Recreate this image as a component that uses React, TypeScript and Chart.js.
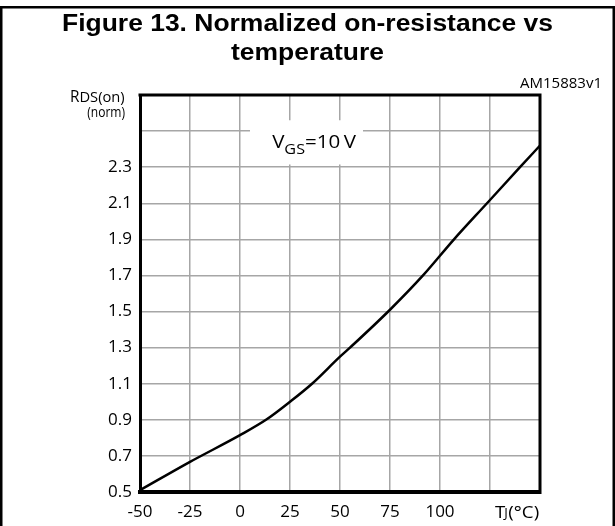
import React, { useEffect, useRef } from 'react';
import { Chart, registerables } from 'chart.js';

Chart.register(...registerables);

// ---- data ----
const temperatures = [-50, -25, 0, 13, 25, 36, 50, 55, 75, 91.5, 107, 123.5, 140, 150];
const rdsOnNorm = [0.51, 0.667, 0.815, 0.9, 1.0, 1.1, 1.25, 1.3, 1.51, 1.7, 1.9, 2.1, 2.3, 2.42];

const xTickValues = [-50, -25, 0, 25, 50, 75, 100, 125, 150];
const xTickLabels = ['-50', '-25', '0', '25', '50', '75', '100', '', ''];
const yTickValues = [0.5, 0.7, 0.9, 1.1, 1.3, 1.5, 1.7, 1.9, 2.1, 2.3, 2.5, 2.7];
const yTickLabels = ['0.5', '0.7', '0.9', '1.1', '1.3', '1.5', '1.7', '1.9', '2.1', '2.3', '', ''];

const titleLines = ['Figure 13. Normalized on-resistance vs', 'temperature'];
const codeLabel = 'AM15883v1';
const vgsLabel = { main: 'V', sub: 'GS', rest: '=10\u2009V' };
const yAxisLabel = { main: 'R', sub: 'DS(on)', second: '(norm)' };
const xAxisLabel = { main: 'T', sub: 'J', rest: '(°C)' };

const SANS = '"Open Sans", "Noto Sans", sans-serif';
const TITLE_FONT = '"Liberation Sans", Arial, sans-serif';

// draw text with a horizontal stretch; returns drawn width
function drawText(ctx: any, text: string, x: number, y: number, font: string, align: string, sx = 1) {
  ctx.save();
  ctx.font = font;
  ctx.textBaseline = 'alphabetic';
  const w = ctx.measureText(text).width * sx;
  let left = x;
  if (align === 'center') left = x - w / 2;
  else if (align === 'right') left = x - w;
  ctx.translate(left, y);
  ctx.scale(sx, 1);
  ctx.textAlign = 'left';
  ctx.fillStyle = '#000';
  ctx.fillText(text, 0, 0);
  ctx.restore();
  return w;
}

function measure(ctx: any, text: string, font: string, sx = 1) {
  ctx.save();
  ctx.font = font;
  const w = ctx.measureText(text).width * sx;
  ctx.restore();
  return w;
}

const decorPlugin = {
  id: 'decor',
  beforeDraw(chart: any) {
    const { ctx, width, height } = chart;
    ctx.save();
    ctx.fillStyle = '#ffffff';
    ctx.fillRect(0, 0, width, height);
    ctx.restore();
  },
  beforeDatasetsDraw(chart: any) {
    const { ctx, scales } = chart;
    const x = scales.x;
    const y = scales.y;
    // white box behind V_GS label
    const bx1 = x.getPixelForValue(5);
    const bx2 = x.getPixelForValue(61.5);
    const by1 = y.getPixelForValue(2.56);
    const by2 = y.getPixelForValue(2.315);
    ctx.save();
    ctx.fillStyle = '#ffffff';
    ctx.fillRect(bx1, by1, bx2 - bx1, by2 - by1);
    ctx.restore();
    const sx = 1.08;
    const bigF = `19px ${SANS}`;
    const subF = `15px ${SANS}`;
    const w1 = measure(ctx, vgsLabel.main, bigF, sx);
    const w2 = measure(ctx, vgsLabel.sub, subF, sx);
    const w3 = measure(ctx, vgsLabel.rest, bigF, sx);
    const total = w1 + w2 + w3;
    const cx = x.getPixelForValue(37);
    const base = y.getPixelForValue(2.405);
    let tx = cx - total / 2;
    tx += drawText(ctx, vgsLabel.main, tx, base, bigF, 'left', sx);
    tx += drawText(ctx, vgsLabel.sub, tx, base + 6, subF, 'left', sx);
    drawText(ctx, vgsLabel.rest, tx, base, bigF, 'left', sx);
  },
  afterDraw(chart: any) {
    const { ctx, chartArea } = chart;
    const { left, right, top, bottom } = chartArea;
    ctx.save();
    // outer frame
    ctx.strokeStyle = '#000';
    ctx.lineWidth = 2.6;
    ctx.beginPath();
    ctx.moveTo(1.2, 526);
    ctx.lineTo(1.2, 7.3);
    ctx.lineTo(613.8, 7.3);
    ctx.lineTo(613.8, 526);
    ctx.stroke();

    // plot frame top & right
    ctx.lineWidth = 3;
    ctx.beginPath();
    ctx.moveTo(left - 1.5, top);
    ctx.lineTo(right, top);
    ctx.lineTo(right, bottom + 2);
    ctx.stroke();
    ctx.restore();

    // title
    const tf = `bold 23px ${TITLE_FONT}`;
    drawText(ctx, titleLines[0], 307.5, 31, tf, 'center', 1.15);
    drawText(ctx, titleLines[1], 307.5, 60, tf, 'center', 1.15);

    // code label
    drawText(ctx, codeLabel, 602, 88, `15px ${SANS}`, 'right', 1.0);

    // y axis label
    let rx = 70;
    rx += drawText(ctx, yAxisLabel.main, rx, 101.5, `17px ${SANS}`, 'left', 0.9);
    drawText(ctx, yAxisLabel.sub, rx, 101.5, `14px ${SANS}`, 'left', 1.05);
    drawText(ctx, yAxisLabel.second, 125, 117, `14px ${SANS}`, 'right', 0.86);

    // x axis label
    const xb = 518;
    let tx = 495;
    tx += drawText(ctx, xAxisLabel.main, tx, xb, `17px ${SANS}`, 'left', 1.1) - 1;
    tx += drawText(ctx, xAxisLabel.sub, tx, xb - 1, `12px ${SANS}`, 'left', 1.1) + 0.5;
    drawText(ctx, xAxisLabel.rest, tx, xb, `17px ${SANS}`, 'left', 1.1);
  },
};

export default function App() {
  const canvasRef = useRef<HTMLCanvasElement | null>(null);

  useEffect(() => {
    const canvas = canvasRef.current;
    if (!canvas) return;
    const points = temperatures.map((t, i) => ({ x: t, y: rdsOnNorm[i] }));
    const chart = new Chart(canvas, {
      type: 'line',
      data: {
        datasets: [
          {
            data: points,
            borderColor: '#000',
            borderWidth: 2.5,
            pointRadius: 0,
            fill: false,
            cubicInterpolationMode: 'monotone',
          },
        ],
      },
      options: {
        animation: false,
        responsive: false,
        devicePixelRatio: 1,
        events: [],
        layout: { padding: { left: 0, top: 95, right: 75, bottom: 0 } },
        plugins: {
          legend: { display: false },
          title: { display: false },
          tooltip: { enabled: false },
        },
        scales: {
          x: {
            type: 'linear',
            min: -50,
            max: 150,
            afterBuildTicks: (scale: any) => {
              scale.ticks = xTickValues.map((v) => ({ value: v }));
            },
            afterFit: (scale: any) => {
              scale.height = 34;
            },
            ticks: {
              autoSkip: false,
              maxRotation: 0,
              padding: 10,
              color: '#000',
              font: { family: SANS, size: 17 },
              callback: (v: any) => {
                const i = xTickValues.indexOf(Number(v));
                return i >= 0 ? xTickLabels[i] : '';
              },
            },
            grid: { color: '#a6a6a6', lineWidth: 1.5, drawTicks: false },
            border: { display: true, color: '#000', width: 4 },
          },
          y: {
            type: 'linear',
            min: 0.5,
            max: 2.7,
            afterBuildTicks: (scale: any) => {
              scale.ticks = yTickValues.map((v) => ({ value: v }));
            },
            afterFit: (scale: any) => {
              scale.width = 140;
            },
            ticks: {
              autoSkip: false,
              padding: 8,
              color: '#000',
              font: { family: SANS, size: 17 },
              callback: (v: any) => {
                const i = yTickValues.findIndex((t) => Math.abs(t - Number(v)) < 1e-6);
                return i >= 0 ? yTickLabels[i] : '';
              },
            },
            grid: { color: '#a6a6a6', lineWidth: 1.5, drawTicks: false },
            border: { display: true, color: '#000', width: 3 },
          },
        },
      },
      plugins: [decorPlugin],
    } as any);
    return () => chart.destroy();
  }, []);

  return (
    <div style={{ position: 'absolute', left: 0, top: 0, width: 615, height: 526, background: '#fff' }}>
      <canvas ref={canvasRef} width={615} height={526} style={{ width: 615, height: 526, display: 'block' }} />
    </div>
  );
}
